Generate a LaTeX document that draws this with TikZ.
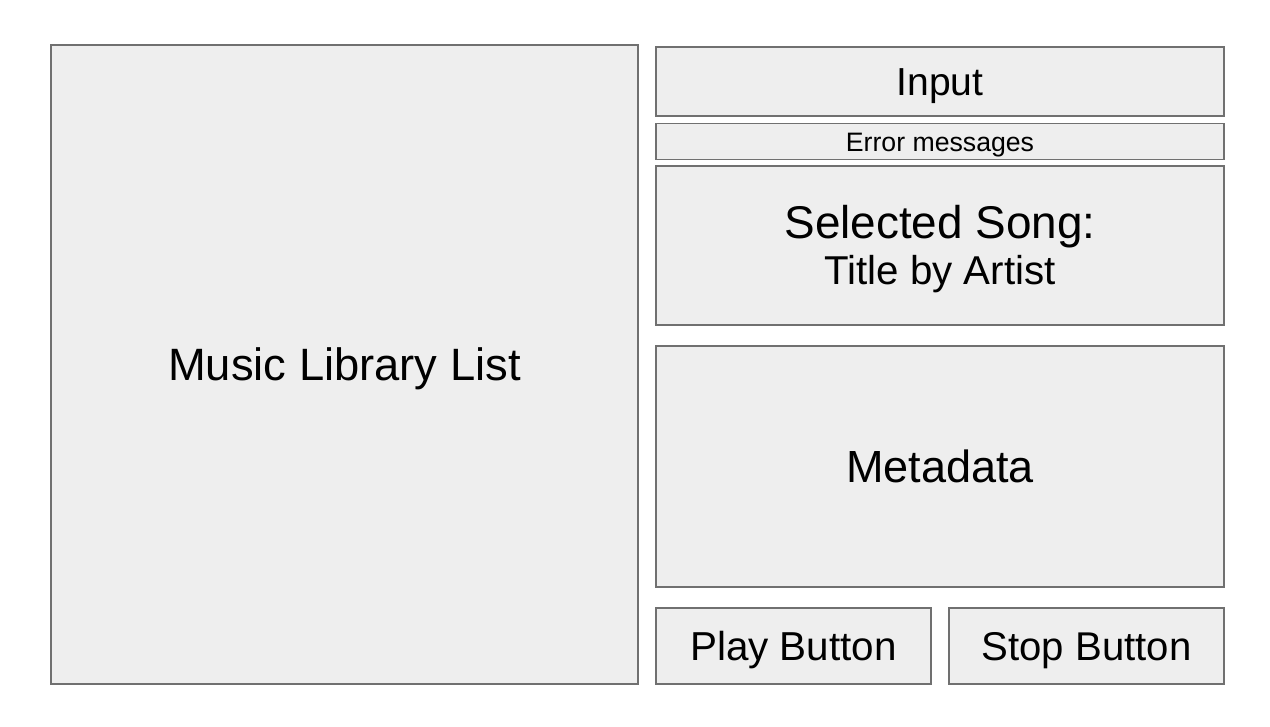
\documentclass[tikz,border=0pt]{standalone}
\usepackage{fontspec}
\setmainfont{Liberation Sans}
\definecolor{boxfill}{HTML}{EEEEEE}
\definecolor{boxline}{HTML}{707070}
\tikzset{
  panel/.style={draw=boxline, fill=boxfill, line width=1pt, inner sep=0pt, align=center, text=black, text depth=0pt},
  label/.style={inner sep=0pt, anchor=base, text=black},
}
\newcommand{\fs}[1]{\fontsize{#1}{#1}\selectfont}
\begin{document}
\begin{tikzpicture}[x=0.75pt,y=-0.75pt]
\useasboundingbox (0,0) rectangle (1270,726);
\node[panel, minimum width=587*0.75pt, minimum height=639*0.75pt, font=\fs{34}, text height=24.3pt] (lib) at (344.5,364.5) {Music Library List};
\node[panel, minimum width=568*0.75pt, minimum height=69*0.75pt, font=\fs{29.3}, text height=21pt] (input) at (940,81.5) {Input};
\node[panel, minimum width=568*0.75pt, minimum height=36*0.75pt, font=\fs{20}, text height=14.3pt] (err) at (940,141.5) {Error messages};
\node[panel, minimum width=568*0.75pt, minimum height=159*0.75pt] (sel) at (940,245.5) {};
\node[label, font=\fs{34.4}] (selA) at (940,238) {Selected Song:};
\node[label, font=\fs{30.2}] (selB) at (940,284) {Title by Artist};
\node[panel, minimum width=568*0.75pt, minimum height=241*0.75pt, font=\fs{33.8}, text height=24.2pt] (meta) at (940,466.5) {Metadata};
\node[panel, minimum width=275*0.75pt, minimum height=76*0.75pt, font=\fs{30.3}, text height=21.7pt] (play) at (793.5,646) {Play Button};
\node[panel, minimum width=275*0.75pt, minimum height=76*0.75pt, font=\fs{30.1}, text height=21.6pt] (stop) at (1086.5,646) {Stop Button};
\end{tikzpicture}
\end{document}
